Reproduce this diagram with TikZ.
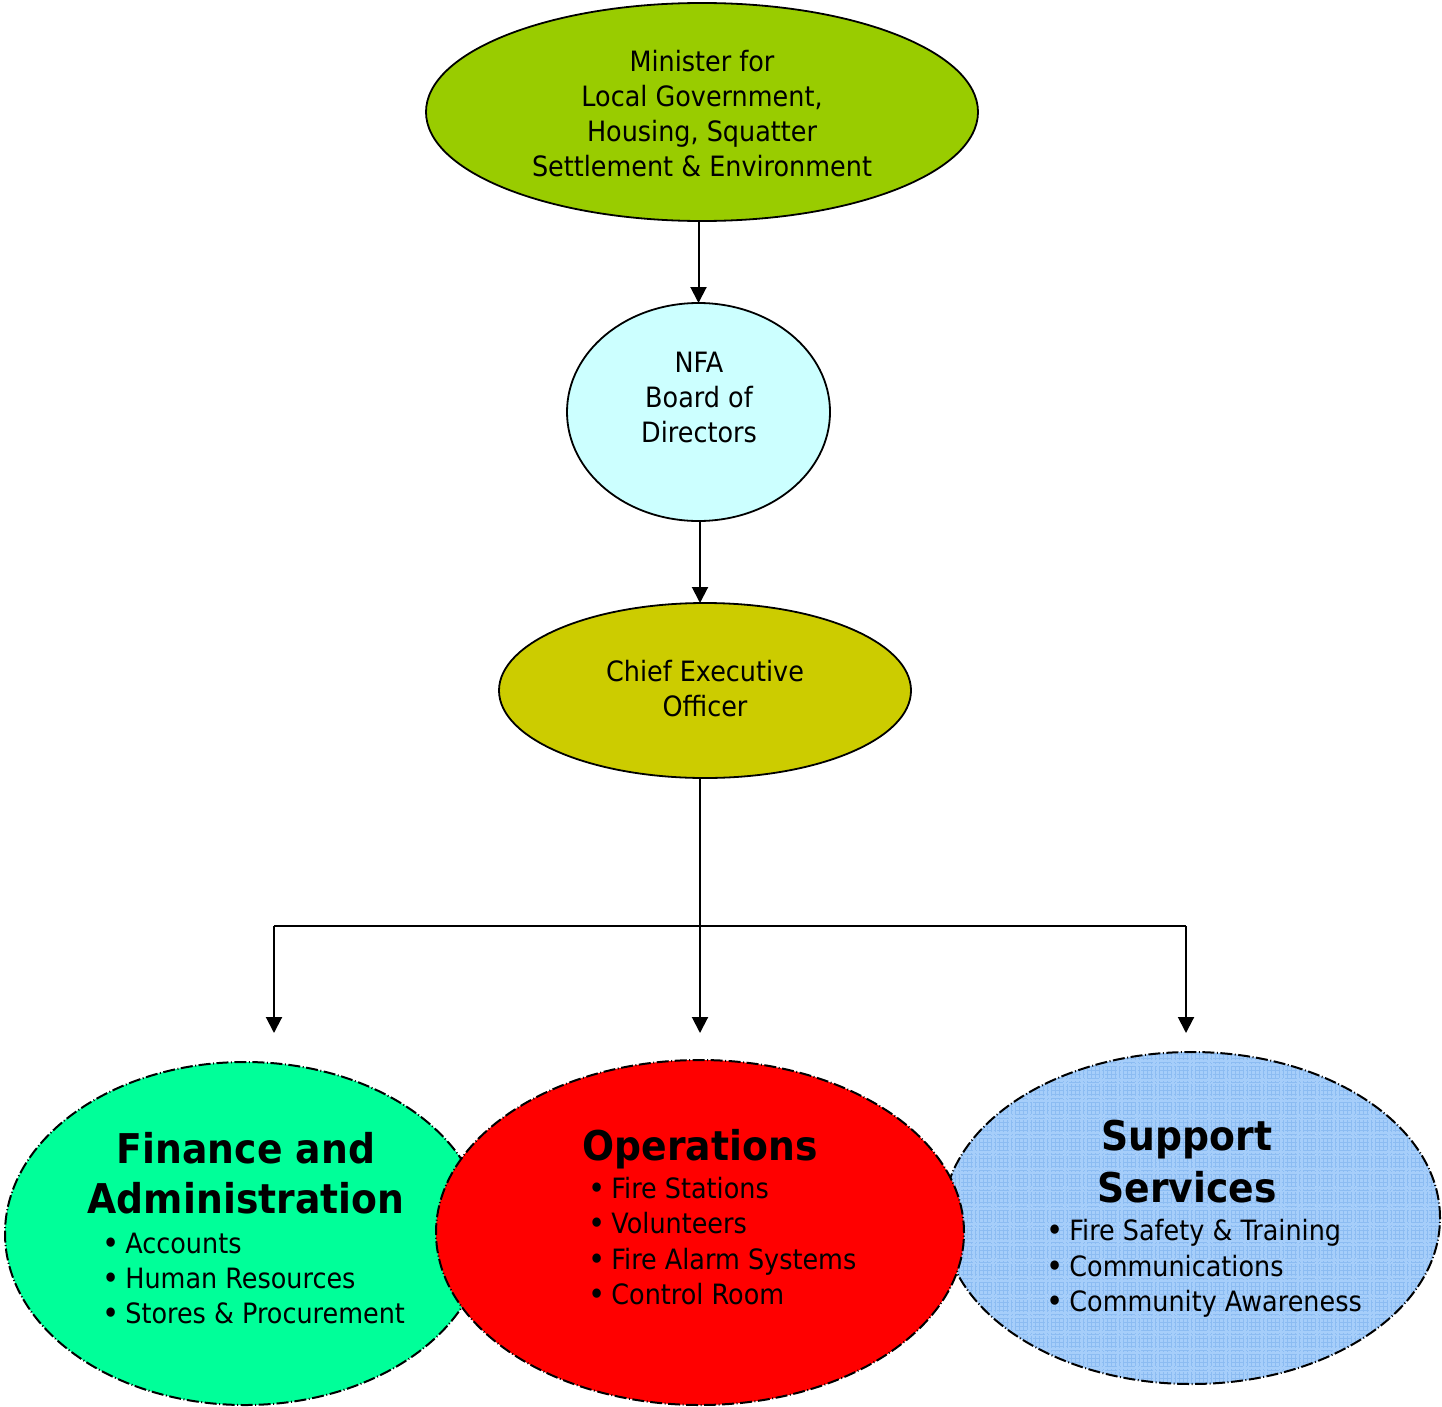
\documentclass[tikz,border=0pt]{standalone}
\usepackage{fontspec}
\setmainfont{DejaVu Sans}[FakeStretch=0.91,BoldFeatures={FakeStretch=0.92}]
\usetikzlibrary{shapes.geometric,arrows.meta}
\definecolor{mingreen}{HTML}{99CC00}
\definecolor{nfacyan}{HTML}{CCFFFF}
\definecolor{ceoolive}{HTML}{CCCC00}
\definecolor{fingreen}{HTML}{00FF99}
\definecolor{opred}{HTML}{FF0000}
\definecolor{supblue}{HTML}{A6CEFA}
\definecolor{supgrid}{HTML}{8CBCF2}
\tikzset{
  solidell/.style={ellipse, draw=black, line width=1.8pt, inner sep=0pt, outer sep=0pt},
  dashell/.style={ellipse, draw=black, line width=2pt, inner sep=0pt, outer sep=0pt,
    dash pattern=on 12pt off 2.5pt on 1pt off 2.5pt},
  arr/.style={line width=2pt, -{Triangle[width=16pt,length=16pt]}},
  conn/.style={line width=2pt},
  txt/.style={font=\fontsize{28}{35}\selectfont, anchor=base, inner sep=0pt},
  lefttxt/.style={font=\fontsize{28}{35}\selectfont, anchor=base west, inner sep=0pt},
  head/.style={font=\fontsize{41}{50}\selectfont\bfseries, anchor=base, inner sep=0pt}
}
\newcommand{\bul}{\raisebox{-1.5pt}{\fontsize{32}{35}\selectfont\textbullet}\hspace{6pt}}
\begin{document}
\begin{tikzpicture}[x=1pt,y=-1pt]
\useasboundingbox (0,0) rectangle (1442,1407);
% top ellipses
\node[solidell, fill=mingreen, minimum width=552pt, minimum height=218pt] (min) at (702,112) {};
\node[solidell, fill=nfacyan, minimum width=263pt, minimum height=218pt] (nfa) at (698.5,412) {};
\node[solidell, fill=ceoolive, minimum width=412pt, minimum height=175pt] (ceo) at (705,690.5) {};
% texts
\node[txt] (m1) at (702,72) {Minister for};
\node[txt] (m2) at (702,107) {Local Government,};
\node[txt] (m3) at (702,142) {Housing, Squatter};
\node[txt] (m4) at (702,177) {Settlement \& Environment};
\node[txt] (n1) at (699,372) {NFA};
\node[txt] (n2) at (699,407) {Board of};
\node[txt] (n3) at (699,442) {Directors};
\node[txt] (c1) at (705,681) {Chief Executive};
\node[txt] (c2) at (705,716) {Officer};
% connectors
\coordinate (jl) at (274,926);
\coordinate (jr) at (1186,926);
\coordinate (tl) at (274,1033);
\coordinate (tm) at (700,1033);
\coordinate (tr) at (1186,1033);
\draw[arr] (min.south -| nfa.north) -- (nfa.north);
\draw[arr] (nfa.south -| tm) -- (ceo.north -| tm);
\draw[arr] (ceo.south -| tm) -- (tm);
\draw[conn] (jl) -- (jr);
\draw[arr] (jl) -- (tl);
\draw[arr] (jr) -- (tr);
% bottom ellipses
\node[dashell, fill=fingreen, minimum width=480pt, minimum height=343pt] (fin) at (245,1233.5) {};
\node[dashell, fill=supblue, minimum width=497pt, minimum height=332pt,
  path picture={\draw[supgrid, line width=0.6pt] (path picture bounding box.south west) grid[step=4pt] (path picture bounding box.north east);}] (sup) at (1191.5,1218) {};
\node[dashell, fill=opred, minimum width=528pt, minimum height=345pt] (ops) at (700,1232.5) {};
% finance texts
\node[head] (f1) at (246,1163) {Finance and};
\node[head] (f2) at (246,1213) {Administration};
\node[lefttxt] (f3) at (102,1253) {\bul Accounts};
\node[lefttxt] (f4) at (102,1288) {\bul Human Resources};
\node[lefttxt] (f5) at (102,1323) {\bul Stores \& Procurement};
% operations texts
\node[head] (o1) at (700,1160) {Operations};
\node[lefttxt] (o2) at (588,1198) {\bul Fire Stations};
\node[lefttxt] (o3) at (588,1233) {\bul Volunteers};
\node[lefttxt] (o4) at (588,1269) {\bul Fire Alarm Systems};
\node[lefttxt] (o5) at (588,1304) {\bul Control Room};
% support texts
\node[head] (s1) at (1187,1150) {Support};
\node[head] (s2) at (1187,1202) {Services};
\node[lefttxt] (s3) at (1046,1240) {\bul Fire Safety \& Training};
\node[lefttxt] (s4) at (1046,1276) {\bul Communications};
\node[lefttxt] (s5) at (1046,1311) {\bul Community Awareness};
\end{tikzpicture}
\end{document}
